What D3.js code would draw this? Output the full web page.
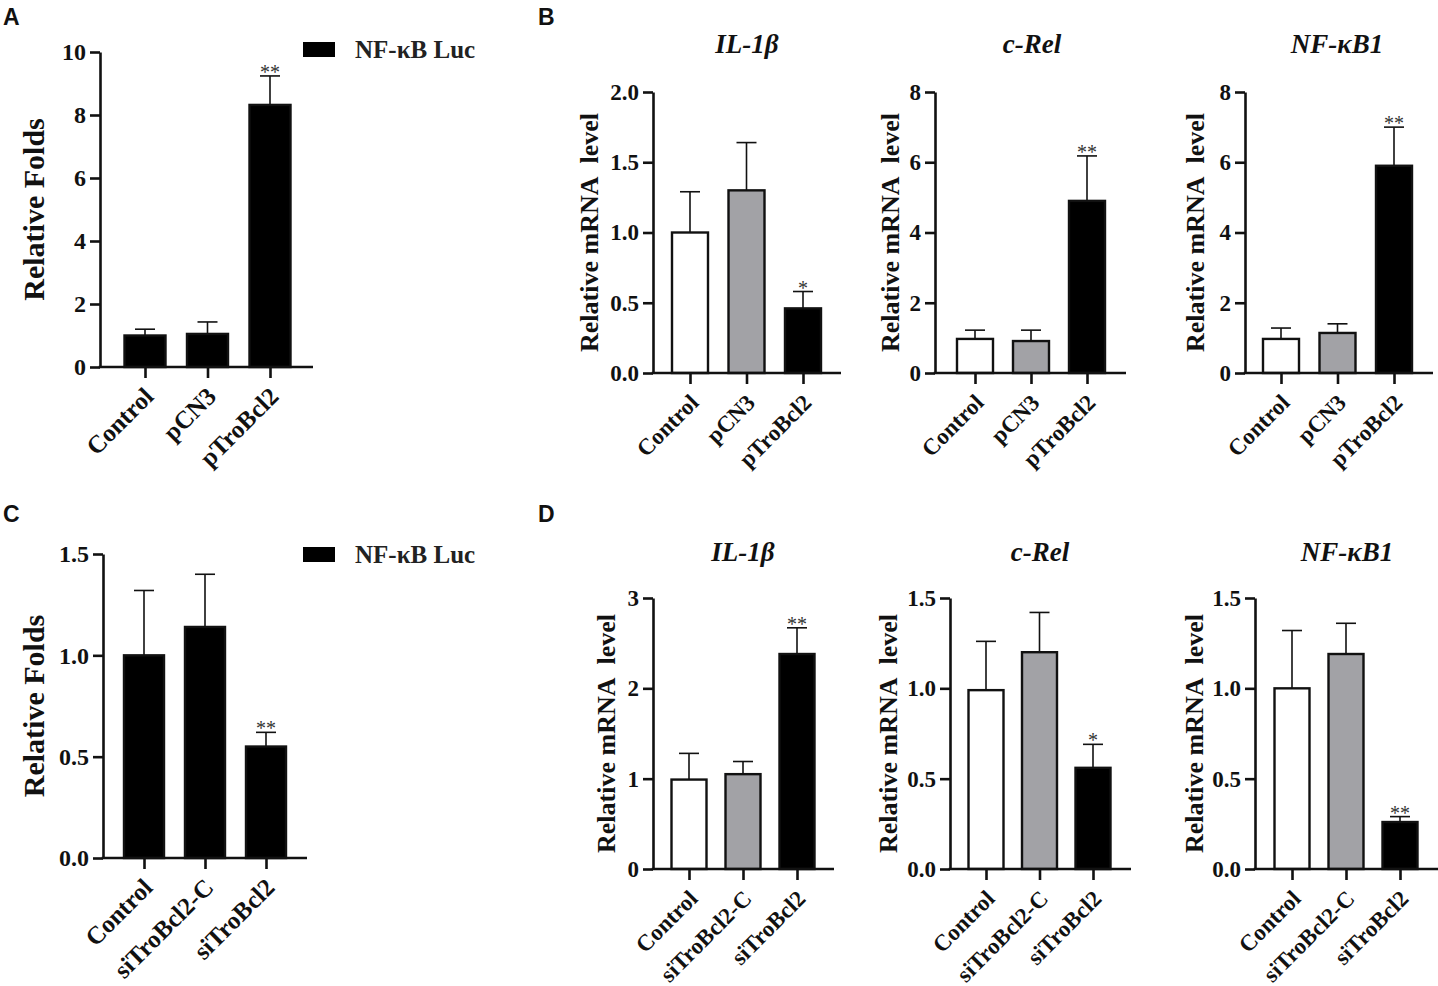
<!DOCTYPE html>
<html>
<head>
<meta charset="utf-8">
<script src="https://cdn.jsdelivr.net/npm/d3@7"></script>
<style>
  body { margin: 0; background: #fff; }
  text { font-family: "Liberation Serif", "Times New Roman", serif; font-weight: bold; fill: #111; }
  .panelLetter { font-family: "Liberation Sans", Arial, sans-serif; font-size: 23px; }
</style>
</head>
<body>
<div id="fig"></div>
<script>
// groups (x categories)
var groupsOver = ["Control", "pCN3", "pTroBcl2"];
var groupsKnock = ["Control", "siTroBcl2-C", "siTroBcl2"];

// A: NF-kB luciferase, overexpression
var aMean = [1.0, 1.05, 8.32];
var aErr = [0.2, 0.38, 0.92];
var aSig = ["", "", "**"];
var aTicks = [0, 2, 4, 6, 8, 10];

// B: qPCR, overexpression
var bIL1bMean = [1.0, 1.3, 0.46];
var bIL1bErr = [0.29, 0.34, 0.12];
var bIL1bSig = ["", "", "*"];
var bIL1bTicks = [0, 0.5, 1.0, 1.5, 2.0];

var bcRelMean = [0.97, 0.91, 4.9];
var bcRelErr = [0.25, 0.31, 1.28];
var bcRelSig = ["", "", "**"];

var bNFkB1Mean = [0.97, 1.14, 5.9];
var bNFkB1Err = [0.31, 0.26, 1.1];
var bNFkB1Sig = ["", "", "**"];
var bTicks8 = [0, 2, 4, 6, 8];

// C: NF-kB luciferase, knockdown
var cMean = [1.0, 1.14, 0.55];
var cErr = [0.32, 0.26, 0.07];
var cSig = ["", "", "**"];
var cTicks = [0, 0.5, 1.0, 1.5];

// D: qPCR, knockdown
var dIL1bMean = [0.99, 1.05, 2.38];
var dIL1bErr = [0.29, 0.14, 0.29];
var dIL1bSig = ["", "", "**"];
var dIL1bTicks = [0, 1, 2, 3];

var dcRelMean = [0.99, 1.2, 0.56];
var dcRelErr = [0.27, 0.22, 0.13];
var dcRelSig = ["", "", "*"];

var dNFkB1Mean = [1.0, 1.19, 0.26];
var dNFkB1Err = [0.32, 0.17, 0.03];
var dNFkB1Sig = ["", "", "**"];
var dTicks15 = [0, 0.5, 1.0, 1.5];

var allBlack = ["#000", "#000", "#000"];
var threeTone = ["#fff", "#a2a2a6", "#000"];

var svg = d3.select("#fig").append("svg")
    .attr("width", 1438)
    .attr("height", 986);

svg.append("rect").attr("width", 1438).attr("height", 986).attr("fill", "#fff");

//draws one bar chart panel
function barPanel(o) {
   var g = svg.append("g");

   var y = d3.scaleLinear().domain(o.domain).range([o.bottom, o.top]);
   var x = d3.scalePoint().domain(o.groups).range([o.c0, o.c1]);

   var rows = o.groups.map(function(k, i) {
      return {name: k, mean: o.mean[i], err: o.err[i], sig: o.sig[i], fill: o.fill[i]};
   });

   //error bars (upper only)
   var eb = g.selectAll(".eb").data(rows).enter().append("g");
   eb.append("line")
      .attr("x1", d => x(d.name)).attr("x2", d => x(d.name))
      .attr("y1", d => y(d.mean)).attr("y2", d => y(d.mean + d.err))
      .attr("stroke", "#111").attr("stroke-width", 1.6);
   eb.append("line")
      .attr("x1", d => x(d.name) - 10).attr("x2", d => x(d.name) + 10)
      .attr("y1", d => y(d.mean + d.err)).attr("y2", d => y(d.mean + d.err))
      .attr("stroke", "#111").attr("stroke-width", 1.6);

   //bars
   g.selectAll(".bar").data(rows).enter().append("rect")
      .attr("x", d => x(d.name) - o.bw / 2)
      .attr("width", o.bw)
      .attr("y", d => y(d.mean))
      .attr("height", d => y(0) - y(d.mean))
      .attr("fill", d => d.fill)
      .attr("stroke", "#111")
      .attr("stroke-width", 2.4);

   //stars
   g.selectAll(".sig").data(rows).enter().append("text")
      .attr("x", d => x(d.name))
      .attr("y", d => y(d.mean + d.err) + 3)
      .attr("text-anchor", "middle")
      .style("font-size", "20px")
      .style("font-weight", "normal")
      .style("fill", "#333")
      .text(d => d.sig);

   //y axis
   var yAxis = d3.axisLeft(y).tickValues(o.ticks).tickSize(10).tickSizeOuter(0).tickPadding(4)
      .tickFormat(o.fmt);
   var ya = g.append("g").attr("transform", "translate(" + o.axisX + ",0)").call(yAxis);
   ya.selectAll("path, line").attr("stroke", "#111").attr("stroke-width", 2.6);
   ya.selectAll("text").style("font-size", o.tickFont + "px").style("font-family", "Liberation Serif").style("font-weight", "bold").attr("fill", "#111");

   //x axis
   var xAxis = d3.axisBottom(x).tickSize(11).tickFormat("");
   var xa = g.append("g").attr("transform", "translate(0," + o.bottom + ")").call(xAxis);
   xa.select(".domain").remove();
   xa.selectAll("line").attr("stroke", "#111").attr("stroke-width", 2.6);
   g.append("line")
      .attr("x1", o.axisX - 1.3).attr("x2", o.axisRight)
      .attr("y1", o.bottom).attr("y2", o.bottom)
      .attr("stroke", "#111").attr("stroke-width", 2.6);

   //category labels rotated
   g.selectAll(".cat").data(o.groups).enter().append("text")
      .attr("text-anchor", "end")
      .attr("transform", d => "translate(" + (x(d) + 10) + "," + (o.bottom + 31) + ") rotate(-45)")
      .style("font-size", o.catFont + "px")
      .text(d => d);

   //y title
   g.append("text")
      .attr("text-anchor", "middle")
      .attr("transform", "translate(" + o.titleX + "," + ((o.top + o.bottom) / 2) + ") rotate(-90)")
      .style("font-size", o.yTitleFont + "px")
      .style("white-space", "pre")
      .text(o.yTitle);

   //gene title
   if (o.gene) {
      g.append("text")
         .attr("x", o.geneX).attr("y", o.geneY)
         .attr("text-anchor", "middle")
         .style("font-size", "27px")
         .style("font-style", "italic")
         .text(o.gene);
   }
}

function legend(x0, y0) {
   svg.append("rect").attr("x", x0).attr("y", y0).attr("width", 32).attr("height", 15).attr("fill", "#000");
   svg.append("text").attr("x", x0 + 52).attr("y", y0 + 16).style("font-size", "25px").style("fill", "#222").text("NF-\u03baB Luc");
}

var f1 = d3.format(".1f"), f0 = d3.format("d");
var mrna = "Relative mRNA\u00a0\u00a0level";

// Panel A
barPanel({groups: groupsOver, mean: aMean, err: aErr, sig: aSig, fill: allBlack, ticks: aTicks, fmt: f0,
   domain: [0, 10], top: 52, bottom: 367, axisX: 100, axisRight: 313, c0: 145, c1: 270, bw: 41,
   tickFont: 24, catFont: 25, yTitle: "Relative Folds", yTitleFont: 30, titleX: 44});
legend(303, 42);

// Panel B
barPanel({groups: groupsOver, mean: bIL1bMean, err: bIL1bErr, sig: bIL1bSig, fill: threeTone, ticks: bIL1bTicks, fmt: f1,
   domain: [0, 2], top: 92, bottom: 373, axisX: 653, axisRight: 841, c0: 690, c1: 803, bw: 36,
   tickFont: 23, catFont: 23, yTitle: mrna, yTitleFont: 26, titleX: 598, gene: "IL-1\u03b2", geneX: 747, geneY: 53});
barPanel({groups: groupsOver, mean: bcRelMean, err: bcRelErr, sig: bcRelSig, fill: threeTone, ticks: bTicks8, fmt: f0,
   domain: [0, 8], top: 92, bottom: 373, axisX: 935, axisRight: 1126, c0: 975, c1: 1087, bw: 36,
   tickFont: 23, catFont: 23, yTitle: mrna, yTitleFont: 26, titleX: 899, gene: "c-Rel", geneX: 1032, geneY: 53});
barPanel({groups: groupsOver, mean: bNFkB1Mean, err: bNFkB1Err, sig: bNFkB1Sig, fill: threeTone, ticks: bTicks8, fmt: f0,
   domain: [0, 8], top: 92, bottom: 373, axisX: 1245, axisRight: 1433, c0: 1281, c1: 1394, bw: 36,
   tickFont: 23, catFont: 23, yTitle: mrna, yTitleFont: 26, titleX: 1204, gene: "NF-\u03baB1", geneX: 1337, geneY: 53});

// Panel C
barPanel({groups: groupsKnock, mean: cMean, err: cErr, sig: cSig, fill: allBlack, ticks: cTicks, fmt: f1,
   domain: [0, 1.5], top: 554, bottom: 858, axisX: 103, axisRight: 307, c0: 144, c1: 266, bw: 40,
   tickFont: 24, catFont: 25, yTitle: "Relative Folds", yTitleFont: 30, titleX: 44});
legend(303, 547);

// Panel D
barPanel({groups: groupsKnock, mean: dIL1bMean, err: dIL1bErr, sig: dIL1bSig, fill: threeTone, ticks: dIL1bTicks, fmt: f0,
   domain: [0, 3], top: 598, bottom: 869, axisX: 653, axisRight: 834, c0: 689, c1: 797, bw: 35,
   tickFont: 23, catFont: 23, yTitle: mrna, yTitleFont: 26, titleX: 615, gene: "IL-1\u03b2", geneX: 743, geneY: 561});
barPanel({groups: groupsKnock, mean: dcRelMean, err: dcRelErr, sig: dcRelSig, fill: threeTone, ticks: dTicks15, fmt: f1,
   domain: [0, 1.5], top: 598, bottom: 869, axisX: 950, axisRight: 1131, c0: 986, c1: 1093, bw: 35,
   tickFont: 23, catFont: 23, yTitle: mrna, yTitleFont: 26, titleX: 897, gene: "c-Rel", geneX: 1040, geneY: 561});
barPanel({groups: groupsKnock, mean: dNFkB1Mean, err: dNFkB1Err, sig: dNFkB1Sig, fill: threeTone, ticks: dTicks15, fmt: f1,
   domain: [0, 1.5], top: 598, bottom: 869, axisX: 1255, axisRight: 1438, c0: 1292, c1: 1400, bw: 35,
   tickFont: 23, catFont: 23, yTitle: mrna, yTitleFont: 26, titleX: 1203, gene: "NF-\u03baB1", geneX: 1347, geneY: 561});

// panel letters
svg.append("text").attr("class", "panelLetter").attr("x", 3).attr("y", 25).text("A");
svg.append("text").attr("class", "panelLetter").attr("x", 538).attr("y", 25).text("B");
svg.append("text").attr("class", "panelLetter").attr("x", 3).attr("y", 522).text("C");
svg.append("text").attr("class", "panelLetter").attr("x", 538).attr("y", 522).text("D");
</script>
</body>
</html>
